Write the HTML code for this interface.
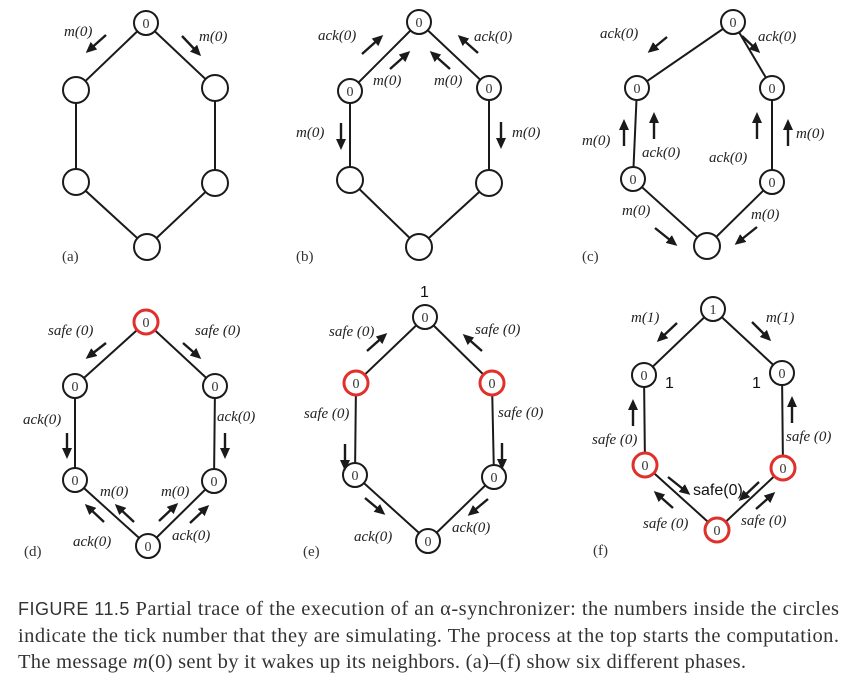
<!DOCTYPE html>
<html><head><meta charset="utf-8"><style>
html,body{margin:0;padding:0;background:#fff;}
svg{display:block;}
.n{fill:#fff;stroke:#1a1a1a;stroke-width:2;}
.r{fill:#fff;stroke:#e0302c;stroke-width:3;}
.e{stroke:#1a1a1a;stroke-width:2;}
.a{stroke:#1a1a1a;stroke-width:2.4;marker-end:url(#ah);}
.d{font-family:"Liberation Serif",serif;font-size:14px;fill:#333;text-anchor:middle;}
.l{font-family:"Liberation Serif",serif;font-style:italic;font-size:15px;fill:#222;}
.s{font-family:"Liberation Sans",sans-serif;font-size:16px;fill:#111;}
.c{font-family:"Liberation Serif",serif;font-size:20.5px;fill:#333;}
.p{font-family:"Liberation Serif",serif;font-size:15px;fill:#333;}
</style></head><body>
<svg width="848" height="680" viewBox="0 0 848 680">
<defs><marker id="ah" markerWidth="11" markerHeight="10" refX="8" refY="5" orient="auto" markerUnits="userSpaceOnUse"><path d="M0,0 L11,5 L0,10 Z" fill="#1a1a1a"/></marker></defs>

<g>
<polyline class="e" fill="none" points="146,23 76,90 76,182 147,247 215,183 215,88 146,23"/>
<circle class="n" cx="146" cy="23" r="12"/><text class="d" x="146" y="28">0</text>
<circle class="n" cx="76" cy="90" r="13"/><circle class="n" cx="215" cy="88" r="13"/>
<circle class="n" cx="76" cy="182" r="13"/><circle class="n" cx="215" cy="183" r="13"/>
<circle class="n" cx="147" cy="247" r="13"/>
<line class="a" x1="106" y1="35" x2="88" y2="51"/><line class="a" x1="182" y1="36" x2="199" y2="54"/>
<text class="l" x="64" y="36">m(0)</text><text class="l" x="199" y="41">m(0)</text>
<text class="p" x="62" y="261">(a)</text>
</g>

<g>
<polyline class="e" fill="none" points="419,22 350,91 350,180 419,247 489,183 489,88 419,22"/>
<circle class="n" cx="419" cy="22" r="12"/><text class="d" x="419" y="27">0</text>
<circle class="n" cx="350" cy="91" r="12"/><text class="d" x="350" y="96">0</text>
<circle class="n" cx="489" cy="88" r="12"/><text class="d" x="489" y="93">0</text>
<circle class="n" cx="350" cy="180" r="13"/><circle class="n" cx="489" cy="183" r="13"/>
<circle class="n" cx="419" cy="247" r="13"/>
<line class="a" x1="362" y1="54" x2="381" y2="37"/><line class="a" x1="390" y1="69" x2="408" y2="53"/>
<line class="a" x1="478" y1="53" x2="460" y2="37"/><line class="a" x1="450" y1="69" x2="432" y2="53"/>
<line class="a" x1="341" y1="123" x2="341" y2="147"/><line class="a" x1="501" y1="122" x2="501" y2="146"/>
<text class="l" x="318" y="40">ack(0)</text><text class="l" x="474" y="41">ack(0)</text>
<text class="l" x="373" y="85">m(0)</text><text class="l" x="434" y="85">m(0)</text>
<text class="l" x="296" y="137">m(0)</text><text class="l" x="512" y="137">m(0)</text>
<text class="p" x="296" y="261">(b)</text>
</g>

<g>
<polyline class="e" fill="none" points="733,22 637,88 633,179 707,246 772,182 772,88 733,22"/>
<circle class="n" cx="733" cy="22" r="12"/><text class="d" x="733" y="27">0</text>
<circle class="n" cx="637" cy="88" r="12"/><text class="d" x="637" y="93">0</text>
<circle class="n" cx="772" cy="88" r="12"/><text class="d" x="772" y="93">0</text>
<circle class="n" cx="633" cy="179" r="12"/><text class="d" x="633" y="184">0</text>
<circle class="n" cx="772" cy="182" r="12"/><text class="d" x="772" y="187">0</text>
<circle class="n" cx="707" cy="246" r="13"/>
<line class="a" x1="667" y1="37" x2="650" y2="51"/><line class="a" x1="742" y1="36" x2="758" y2="51"/>
<line class="a" x1="624" y1="146" x2="624" y2="122"/><line class="a" x1="654" y1="139" x2="654" y2="115"/>
<line class="a" x1="757" y1="139" x2="757" y2="115"/><line class="a" x1="788" y1="146" x2="788" y2="122"/>
<line class="a" x1="655" y1="228" x2="675" y2="244"/><line class="a" x1="757" y1="227" x2="737" y2="243"/>
<text class="l" x="600" y="38">ack(0)</text><text class="l" x="758" y="41">ack(0)</text>
<text class="l" x="582" y="145">m(0)</text><text class="l" x="642" y="157">ack(0)</text>
<text class="l" x="709" y="162">ack(0)</text><text class="l" x="796" y="138">m(0)</text>
<text class="l" x="622" y="215">m(0)</text><text class="l" x="751" y="219">m(0)</text>
<text class="p" x="582" y="261">(c)</text>
</g>

<g>
<polyline class="e" fill="none" points="146,322 75,386 75,480 148,546 214,481 215,386 146,322"/>
<circle class="r" cx="146" cy="322" r="12"/><text class="d" x="146" y="327">0</text>
<circle class="n" cx="75" cy="386" r="12"/><text class="d" x="75" y="391">0</text>
<circle class="n" cx="215" cy="386" r="12"/><text class="d" x="215" y="391">0</text>
<circle class="n" cx="75" cy="480" r="12"/><text class="d" x="75" y="485">0</text>
<circle class="n" cx="214" cy="481" r="12"/><text class="d" x="214" y="486">0</text>
<circle class="n" cx="148" cy="546" r="12"/><text class="d" x="148" y="551">0</text>
<line class="a" x1="106" y1="343" x2="88" y2="357"/><line class="a" x1="183" y1="343" x2="199" y2="357"/>
<line class="a" x1="67" y1="433" x2="67" y2="456"/><line class="a" x1="225" y1="433" x2="225" y2="456"/>
<line class="a" x1="104" y1="522" x2="87" y2="506"/><line class="a" x1="134" y1="522" x2="117" y2="506"/>
<line class="a" x1="159" y1="521" x2="176" y2="505"/><line class="a" x1="190" y1="523" x2="207" y2="507"/>
<text class="l" x="48" y="335">safe (0)</text><text class="l" x="195" y="335">safe (0)</text>
<text class="l" x="23" y="424">ack(0)</text><text class="l" x="217" y="421">ack(0)</text>
<text class="l" x="100" y="496">m(0)</text><text class="l" x="161" y="496">m(0)</text>
<text class="l" x="73" y="546">ack(0)</text><text class="l" x="172" y="540">ack(0)</text>
<text class="p" x="24" y="556">(d)</text>
</g>

<g>
<polyline class="e" fill="none" points="425,317 356,383 355,475 428,541 494,477 492,383 425,317"/>
<circle class="n" cx="425" cy="317" r="12"/><text class="d" x="425" y="322">0</text>
<circle class="r" cx="356" cy="383" r="12"/><text class="d" x="356" y="388">0</text>
<circle class="r" cx="492" cy="383" r="12"/><text class="d" x="492" y="388">0</text>
<circle class="n" cx="355" cy="475" r="12"/><text class="d" x="355" y="480">0</text>
<circle class="n" cx="494" cy="477" r="12"/><text class="d" x="494" y="482">0</text>
<circle class="n" cx="428" cy="541" r="12"/><text class="d" x="428" y="546">0</text>
<text class="s" x="420" y="297">1</text>
<line class="a" x1="367" y1="351" x2="385" y2="335"/><line class="a" x1="482" y1="351" x2="465" y2="336"/>
<line class="a" x1="345" y1="444" x2="345" y2="468"/><line class="a" x1="502" y1="443" x2="502" y2="467"/>
<line class="a" x1="365" y1="498" x2="383" y2="513"/><line class="a" x1="488" y1="499" x2="470" y2="514"/>
<text class="l" x="329" y="336">safe (0)</text><text class="l" x="475" y="334">safe (0)</text>
<text class="l" x="304" y="418">safe (0)</text><text class="l" x="498" y="417">safe (0)</text>
<text class="l" x="354" y="541">ack(0)</text><text class="l" x="452" y="532">ack(0)</text>
<text class="p" x="303" y="556">(e)</text>
</g>

<g>
<polyline class="e" fill="none" points="713,309 644,375 645,465 717,530 783,468 782,373 713,309"/>
<circle class="n" cx="713" cy="309" r="12"/><text class="d" x="713" y="314">1</text>
<circle class="n" cx="644" cy="375" r="12"/><text class="d" x="644" y="380">0</text>
<circle class="n" cx="782" cy="373" r="12"/><text class="d" x="782" y="378">0</text>
<circle class="r" cx="645" cy="465" r="12"/><text class="d" x="645" y="470">0</text>
<circle class="r" cx="783" cy="468" r="12"/><text class="d" x="783" y="473">0</text>
<circle class="r" cx="717" cy="530" r="12"/><text class="d" x="717" y="535">0</text>
<text class="s" x="665" y="388">1</text><text class="s" x="752" y="388">1</text>
<line class="a" x1="677" y1="323" x2="659" y2="340"/><line class="a" x1="752" y1="322" x2="769" y2="339"/>
<line class="a" x1="633" y1="426" x2="633" y2="402"/><line class="a" x1="792" y1="423" x2="792" y2="399"/>
<line class="a" x1="668" y1="477" x2="688" y2="493"/><line class="a" x1="759" y1="482" x2="741" y2="499"/>
<line class="a" x1="673" y1="508" x2="656" y2="493"/><line class="a" x1="756" y1="509" x2="773" y2="494"/>
<text class="l" x="631" y="322">m(1)</text><text class="l" x="766" y="322">m(1)</text>
<text class="l" x="592" y="444">safe (0)</text><text class="l" x="786" y="441">safe (0)</text>
<text class="s" x="693" y="495">safe(0)</text>
<text class="l" x="643" y="528">safe (0)</text><text class="l" x="741" y="525">safe (0)</text>
<text class="p" x="593" y="555">(f)</text>
</g>

<g>
<text x="18" y="615" class="c" textLength="821" lengthAdjust="spacing"><tspan font-family="Liberation Sans, sans-serif" font-size="18">FIGURE 11.5</tspan>   Partial trace of the execution of an α-synchronizer: the numbers inside the circles</text>
<text x="18" y="642" class="c" textLength="821" lengthAdjust="spacing">indicate the tick number that they are simulating. The process at the top starts the computation.</text>
<text x="18" y="668" class="c" textLength="728" lengthAdjust="spacing">The message <tspan font-style="italic">m</tspan>(0) sent by it wakes up its neighbors. (a)–(f) show six different phases.</text>
</g>
</svg>
</body></html>
